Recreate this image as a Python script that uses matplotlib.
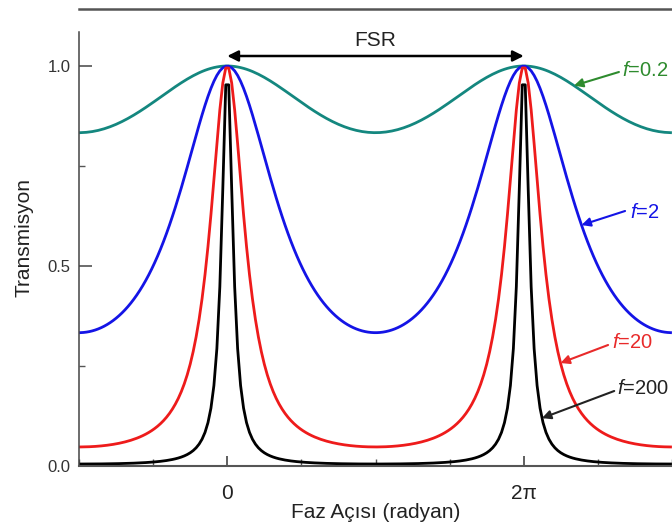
import numpy as np
import matplotlib
matplotlib.use("Agg")
import matplotlib.pyplot as plt
from matplotlib.ticker import FixedLocator, MultipleLocator

plt.rcParams['font.family'] = ['Liberation Sans', 'DejaVu Sans']
plt.rcParams['mathtext.fontset'] = 'custom'
plt.rcParams['mathtext.rm'] = 'Liberation Sans'
plt.rcParams['mathtext.it'] = 'Liberation Sans:italic'

# Coefficient of finesse for each curve, with colours and label styling
finesse = [0.2, 2, 20, 200]
curve_colors = ['#14877f', '#1414e6', '#ee1b1b', '#000000']
label_colors = ['#2e8b2e', '#1414e6', '#e82a2a', '#222222']
labels = ['=0.2', '=2', '=20', '=200']

# Phase axis: sampled on interval midpoints between -pi and 3pi
n_steps = 200
step = 4 * np.pi / n_steps
phase = -np.pi + (np.arange(n_steps) + 0.5) * step

xtick_vals = [0, 2 * np.pi]
xtick_labels = ['0', '2π']
ytick_vals = [0.0, 0.5, 1.0]
ytick_labels = ['0.0', '0.5', '1.0']


def airy(phi, f):
    return 1.0 / (1.0 + f * np.sin(phi / 2.0) ** 2)


fig = plt.figure(figsize=(6.72, 5.22), dpi=100)
ax = fig.add_axes([79 / 672, 56 / 522, 593 / 672, 457 / 522])

for f, c in zip(finesse, curve_colors):
    ax.plot(phase, airy(phase, f), color=c, lw=2.0, solid_joinstyle='round')

ax.set_xlim(-np.pi, 3 * np.pi)
ax.set_ylim(0, 1.1425)

# Spines
ax.spines['right'].set_visible(False)
ax.spines['top'].set_color('#555555')
ax.spines['top'].set_linewidth(1.8)
ax.spines['left'].set_color('#444444')
ax.spines['left'].set_linewidth(1.1)
ax.spines['left'].set_bounds(0, 1.085)
ax.spines['bottom'].set_color('#555555')
ax.spines['bottom'].set_linewidth(1.5)

# Ticks
ax.xaxis.set_major_locator(FixedLocator(xtick_vals))
ax.set_xticklabels(xtick_labels)
ax.xaxis.set_minor_locator(MultipleLocator(np.pi / 2))
ax.yaxis.set_major_locator(FixedLocator(ytick_vals))
ax.set_yticklabels(ytick_labels)
ax.yaxis.set_minor_locator(MultipleLocator(0.25))
ax.tick_params(axis='x', which='major', direction='in', length=7, width=1.2,
               color='#444444', labelsize=15, pad=13, labelcolor='#222222')
ax.tick_params(axis='x', which='minor', direction='in', length=5, width=1.0,
               color='#555555')
ax.tick_params(axis='y', which='major', direction='in', length=9, width=1.1,
               color='#444444', labelsize=12, pad=6, labelcolor='#333333')
ax.tick_params(axis='y', which='minor', direction='in', length=4, width=1.0,
               color='#555555')
ax.tick_params(top=False, right=False, which='both')

ax.set_xlabel('Faz Açısı (radyan)', fontsize=15, color='#222222', labelpad=0)
ax.set_ylabel('Transmisyon', fontsize=15, color='#222222', labelpad=10)

# Free spectral range marker between neighbouring peaks
ax.annotate('', xy=(0, 1.025), xytext=(2 * np.pi, 1.025),
            arrowprops=dict(arrowstyle='<|-|>', color='black', lw=1.8,
                            mutation_scale=16, shrinkA=0, shrinkB=0))
ax.text(np.pi, 1.065, 'FSR', fontsize=15, ha='center', va='center',
        color='#222222')

# Curve labels with arrows pointing to the right-hand flank of the 2pi peak
tip_offsets = [1.065, 1.224, 0.779, 0.386]
text_pos = [(8.365, 0.9875), (8.535, 0.635), (8.153, 0.31), (8.259, 0.195)]
tail_pos = [(8.30, 0.985), (8.43, 0.6375), (8.07, 0.3025), (8.20, 0.1875)]
for f, c, lab, off, tp, tl in zip(finesse, label_colors, labels,
                                  tip_offsets, text_pos, tail_pos):
    tip_x = 2 * np.pi + off
    tip = (tip_x, airy(tip_x, f))
    ax.annotate('', xy=tip, xytext=tl,
                arrowprops=dict(arrowstyle='-|>', color=c, lw=1.5,
                                mutation_scale=13, shrinkA=0, shrinkB=0))
    ax.text(tp[0], tp[1], '$f$' + lab, fontsize=14.5, color=c,
            ha='left', va='center', clip_on=False)

fig.savefig('out.png', dpi=100)
